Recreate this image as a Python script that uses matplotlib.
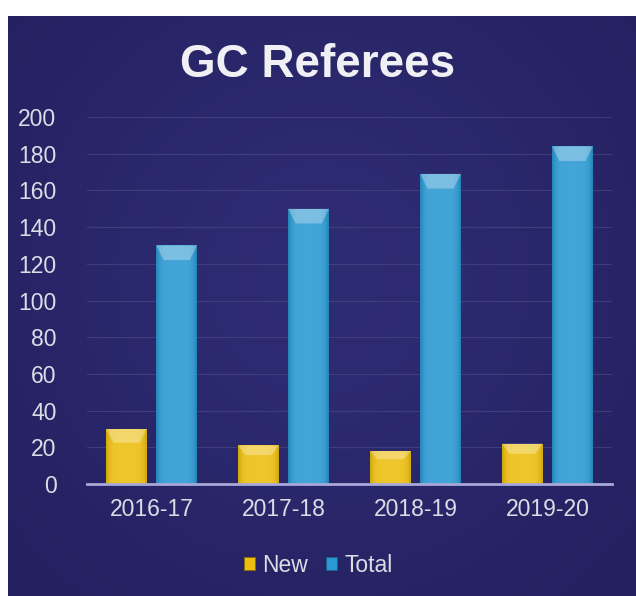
import numpy as np
import matplotlib.pyplot as plt
from matplotlib.patches import Polygon

plt.rcParams['font.family'] = ['Liberation Sans', 'DejaVu Sans']

seasons = ["2016-17", "2017-18", "2018-19", "2019-20"]
new_refs = [30, 21, 18, 22]
total_refs = [130, 150, 169, 184]

yellow = "#ecbf10"
blue = "#2a98d2"
text_col = "#dcdce6"

fig = plt.figure(figsize=(6.36, 5.96), dpi=100)
fig.patch.set_facecolor("white")

# dark panel with a soft glow in the middle
bg = fig.add_axes([8 / 636, 0, 628 / 636, 580 / 596])
bg.set_axis_off()
yy, xx = np.mgrid[0:1:200j, 0:1:200j]
glow = np.exp(-(((xx - 0.5) / 0.55) ** 2 + ((yy - 0.45) / 0.6) ** 2))
c_dark = np.array([0.13, 0.12, 0.36])
c_light = np.array([0.18, 0.17, 0.45])
img = c_dark + (c_light - c_dark) * glow[..., None]
bg.imshow(img, aspect="auto", extent=[0, 1, 0, 1])

ax = fig.add_axes([87 / 636, 112 / 596, 525 / 636, 367 / 596])
ax.set_facecolor("none")

x = np.arange(len(seasons))
w = 0.31
off = 0.19


def fancy_bars(xpos, vals, color):
    bars = ax.bar(xpos, vals, w, color=color, zorder=3, edgecolor="none")
    for b in bars:
        x0, y0 = b.get_x(), b.get_y()
        bw, bh = b.get_width(), b.get_height()
        # horizontal shading inside the bar
        shade = np.linspace(-1, 1, 50)
        g = 1 - shade ** 4
        im = ax.imshow(g[None, :], cmap="Greys_r", alpha=0.12, vmin=0, vmax=1,
                       extent=[x0, x0 + bw, y0, y0 + bh], aspect="auto", zorder=4)
        im.set_clip_path(b)
        # bevel on top
        bev = min(bh * 0.25, 8)
        ax.add_patch(Polygon([[x0, y0 + bh], [x0 + bw, y0 + bh],
                              [x0 + bw * 0.82, y0 + bh - bev], [x0 + bw * 0.18, y0 + bh - bev]],
                             closed=True, facecolor="white", alpha=0.3, edgecolor="none", zorder=5))
    return bars


fancy_bars(x - off, new_refs, yellow)
fancy_bars(x + off, total_refs, blue)

ax.set_xlim(-0.49, 3.49)
ax.set_ylim(0, 200)
ax.set_yticks(range(0, 201, 20))
ax.set_xticks(x)
ax.set_xticklabels(seasons)
ax.tick_params(axis="both", length=0, colors=text_col, labelsize=16.5)
ax.tick_params(axis="x", pad=10)
ax.tick_params(axis="y", pad=22)
ax.yaxis.grid(True, color="#5a5890", linewidth=0.8, alpha=0.45, zorder=0)
ax.set_axisbelow(True)
for s in ["top", "right", "left"]:
    ax.spines[s].set_visible(False)
ax.spines["bottom"].set_color("#a9a8d8")
ax.spines["bottom"].set_linewidth(2)
ax.spines["bottom"].set_zorder(6)

fig.text(0.5, 1 - 65 / 596, "GC Referees", ha="center", va="center",
         fontsize=33, fontweight="bold", color="#f0f0f4")

h1 = plt.Rectangle((0, 0), 1, 1, facecolor=yellow, edgecolor="#8a6d00", linewidth=0.6)
h2 = plt.Rectangle((0, 0), 1, 1, facecolor=blue, edgecolor="#1d5f86", linewidth=0.6)
leg = fig.legend([h1, h2], ["New", "Total"], loc="center", bbox_to_anchor=(0.5, 1 - 565 / 596),
                 ncol=2, frameon=False, fontsize=16.5, handlelength=0.5, handleheight=0.5,
                 handletextpad=0.3, columnspacing=0.8)
for t in leg.get_texts():
    t.set_color(text_col)

fig.savefig("out.png", dpi=100, facecolor=fig.get_facecolor())
